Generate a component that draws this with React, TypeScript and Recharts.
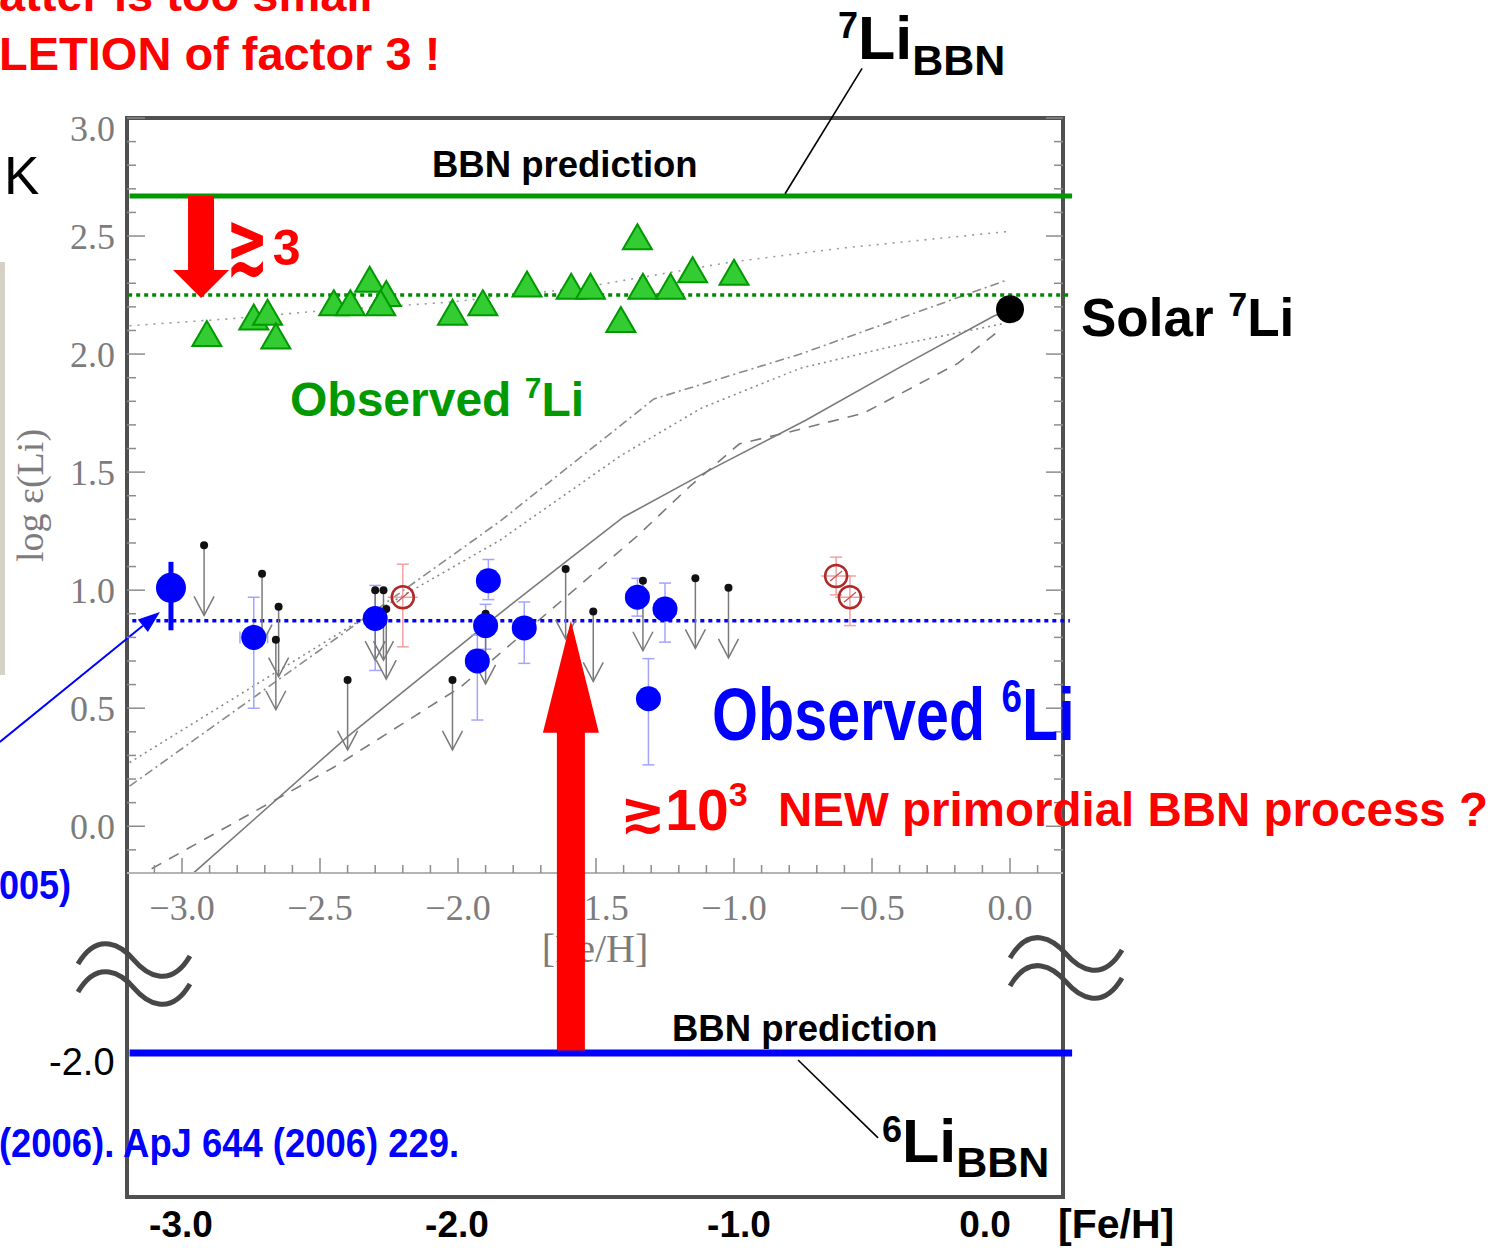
import React from 'react'
import { ComposedChart, Line, Scatter, ErrorBar, XAxis, YAxis, ReferenceLine, ReferenceDot, ReferenceArea } from 'recharts'

const W = 1499
const H = 1248
const SANS = '"Liberation Sans", Arial, "DejaVu Sans", sans-serif'
const SERIF = '"Liberation Serif", "Times New Roman", serif'
const RED = '#ff0000'
const GREEN = '#009900'
const BLUE = '#0000ff'
const SCAN_TICK = '#8c8c8c'
const SCAN_TEXT = '#7c7c7c'
const FRAME = '#505050'

// scanned panel axes ([Fe/H] vs log eps(Li))
const feDomain: [number, number] = [-3.1993, 0.192]
const liDomain: [number, number] = [-0.198, 3.0]
const feMajor = [-3.0, -2.5, -2.0, -1.5, -1.0, -0.5, 0.0]
const liMajor = [0.0, 0.5, 1.0, 1.5, 2.0, 2.5, 3.0]

// slide axis printed under the broken part
const slideFeTicks = [-3.0, -2.0, -1.0, 0.0]
const FRAME_BOTTOM = -1.57

// levels
const LI7_BBN = 2.67
const LI7_PLATEAU = 2.25
const LI6_PLATEAU = 0.87
const LI6_BBN = -2.0
const BREAK_SHIFT = 1.04 // the part below the axis break is drawn shifted up by this much

// observed 7Li (green triangles)
const li7Fe = [-2.91, -2.74, -2.69, -2.66, -2.45, -2.39, -2.32, -2.26, -2.28, -2.02, -1.91, -1.75, -1.59, -1.52, -1.35, -1.41, -1.33, -1.23, -1.15, -1.0]
const li7Val = [2.07, 2.14, 2.16, 2.06, 2.2, 2.2, 2.3, 2.24, 2.2, 2.16, 2.2, 2.28, 2.27, 2.27, 2.48, 2.13, 2.27, 2.27, 2.34, 2.33]

// observed 6Li detections (blue dots)
const li6Fe = [-2.74, -2.3, -1.89, -1.9, -1.93, -1.76, -1.35, -1.25, -1.31]
const li6Val = [0.8, 0.88, 1.04, 0.85, 0.7, 0.84, 0.97, 0.92, 0.54]
const li6Up = [0.17, 0.14, 0.09, 0.09, 0.11, 0.11, 0.08, 0.11, 0.17]
const li6Down = [0.3, 0.22, 0.08, 0.1, 0.25, 0.15, 0.08, 0.14, 0.28]
const li6FeErr = [0.05, 0.04, 0.04, 0.04, 0.04, 0.04, 0.04, 0.04, 0.04]

// highlighted star (big blue dot)
const starFe = [-3.04]
const starVal = [1.01]
const starUp = [0.11]
const starDown = [0.18]

// 6Li upper limits
const limFe = [-2.92, -2.71, -2.65, -2.66, -2.4, -2.3, -2.27, -2.26, -2.02, -1.9, -1.61, -1.51, -1.33, -1.14, -1.02]
const limVal = [1.19, 1.07, 0.93, 0.79, 0.62, 1.0, 1.0, 0.92, 0.62, 0.9, 1.09, 0.91, 1.04, 1.05, 1.01]

// open red circles
const redFe = [-2.2, -0.63, -0.58]
const redVal = [0.97, 1.06, 0.97]
const redUp = [0.14, 0.08, 0.09]
const redDown = [0.21, 0.08, 0.12]

// sun
const solarFe = [0.0]
const solarVal = [2.19]

// model curves
const solidFe = [-2.96, -2.4, -1.85, -1.61, -1.4, -1.07, -0.74, -0.39, -0.06, 0.0]
const solidLi = [-0.2, 0.38, 0.9, 1.12, 1.31, 1.52, 1.72, 1.95, 2.16, 2.19]
const dashedFe = [-3.11, -2.45, -1.99, -1.57, -1.35, -1.16, -0.98, -0.8, -0.53, -0.19, -0.05]
const dashedLi = [-0.18, 0.25, 0.59, 1.01, 1.23, 1.44, 1.62, 1.67, 1.75, 1.96, 2.09]
const dashDotFe = [-3.19, -1.85, -1.29, -0.76, -0.02]
const dashDotLi = [0.17, 1.29, 1.81, 2.0, 2.31]
const dottedFe = [-3.19, -2.33, -1.85, -1.41, -1.12, -0.76, -0.4, -0.02]
const dottedLi = [0.27, 0.89, 1.21, 1.57, 1.77, 1.94, 2.04, 2.13]
const li7ModelFe = [-3.19, -2.82, -2.53, -2.03, -1.56, -1.01, -0.6, 0.0]
const li7ModelLi = [2.12, 2.15, 2.18, 2.22, 2.28, 2.39, 2.45, 2.52]

const zip = (xs: number[], ys: number[]) => xs.map((x, i) => ({ x, y: ys[i] }))
const li7Data = zip(li7Fe, li7Val)
const li6Data = li6Fe.map((x, i) => ({ x, y: li6Val[i], ey: [li6Down[i], li6Up[i]], ex: li6FeErr[i] }))
const starData = starFe.map((x, i) => ({ x, y: starVal[i], ey: [starDown[i], starUp[i]] }))
const limData = zip(limFe, limVal)
const redData = redFe.map((x, i) => ({ x, y: redVal[i], ey: [redDown[i], redUp[i]] }))
const solarData = zip(solarFe, solarVal)

const minorTicks = (from: number, to: number) => {
  const out: number[] = []
  for (let i = Math.round(from * 10); i <= Math.round(to * 10); i++) out.push(i / 10)
  return out
}
const feTicks = minorTicks(-3.1, 0.1)
const liTicks = minorTicks(-0.1, 3.0)
const isMajor = (v: number) => feMajor.concat(liMajor).some((m) => Math.abs(m - v) < 1e-6)
const fmtScan = (v: number) => (v < -1e-9 ? '\u2212' : '') + Math.abs(v).toFixed(1)

function InnerXTick(p: any) {
  const { x, y, payload } = p
  const major = isMajor(payload.value)
  return (
    <g>
      <line x1={x} x2={x} y1={y} y2={y - (major ? 15 : 8)} stroke={SCAN_TICK} strokeWidth={1.5} />
      {major && (
        <text x={x} y={y + 47} textAnchor="middle" fontFamily={SERIF} fontSize={36} fill={SCAN_TEXT}>
          {fmtScan(payload.value)}
        </text>
      )}
    </g>
  )
}

function InnerTopTick(p: any) {
  const { x, y, payload } = p
  const major = isMajor(payload.value)
  return <line x1={x} x2={x} y1={y} y2={y + (major ? 15 : 8)} stroke={SCAN_TICK} strokeWidth={1.5} />
}

function InnerYTick(p: any) {
  const { x, y, payload } = p
  const v = payload.value
  const major = isMajor(v)
  return (
    <g>
      <line x1={x} x2={x + (major ? 18 : 9)} y1={y} y2={y} stroke={SCAN_TICK} strokeWidth={1.5} />
      {major && (
        <text x={x - 12} y={y + (v > 2.99 ? 23 : 13)} textAnchor="end" fontFamily={SERIF} fontSize={36} fill={SCAN_TEXT}>
          {v.toFixed(1)}
        </text>
      )}
    </g>
  )
}

function InnerRightTick(p: any) {
  const { x, y, payload } = p
  const major = isMajor(payload.value)
  return <line x1={x} x2={x - (major ? 17 : 9)} y1={y} y2={y} stroke={SCAN_TICK} strokeWidth={1.5} />
}

const YTitle = (p: any) => {
  const vb = p.viewBox || { x: 27, y: 118, width: 100, height: 755 }
  const cx = vb.x + 3
  const cy = vb.y + vb.height / 2
  return (
    <text transform={`translate(${cx},${cy}) rotate(-90)`} textAnchor="middle" dominantBaseline="central" fontFamily={SERIF} fontSize={38} fill={SCAN_TEXT}>
      log ε(Li)
    </text>
  )
}

const Triangle = (p: any) => (
  <polygon
    points={`${p.cx},${p.cy - 16.5} ${p.cx - 14.5},${p.cy + 8.5} ${p.cx + 14.5},${p.cy + 8.5}`}
    fill="#33cc33"
    stroke="#009900"
    strokeWidth={2}
  />
)

const UpperLimit = (p: any) => (
  <g stroke="#7a7a7a" fill="none" strokeWidth={1.5}>
    <line x1={p.cx} y1={p.cy} x2={p.cx} y2={p.cy + 70} />
    <polyline points={`${p.cx - 10},${p.cy + 51} ${p.cx},${p.cy + 70} ${p.cx + 10},${p.cy + 51}`} />
    <circle cx={p.cx} cy={p.cy} r={4} fill="#111" stroke="none" />
  </g>
)

const RedCircle = (p: any) => (
  <g fill="none">
    <line x1={p.cx - 15} x2={p.cx + 15} y1={p.cy} y2={p.cy} stroke="#f0a0a0" strokeWidth={1.5} />
    <circle cx={p.cx} cy={p.cy} r={11} stroke="#b02828" strokeWidth={2.5} />
    <line x1={p.cx - 6} x2={p.cx + 6} y1={p.cy + 5} y2={p.cy - 5} stroke="#c05050" strokeWidth={1.2} />
  </g>
)

const dot = (r: number, fill: string) => (p: any) => <circle cx={p.cx} cy={p.cy} r={r} fill={fill} />
const nothing = () => <g />

const blockArrow = (shaft: number, head: number, headLen: number) => (p: any) => {
  const { x1, y1, x2, y2 } = p
  const L = Math.hypot(x2 - x1, y2 - y1) || 1
  const ux = (x2 - x1) / L
  const uy = (y2 - y1) / L
  const nx = -uy
  const ny = ux
  const hx = x2 - ux * headLen
  const hy = y2 - uy * headLen
  const pts = [
    [x1 + nx * shaft, y1 + ny * shaft],
    [hx + nx * shaft, hy + ny * shaft],
    [hx + nx * head, hy + ny * head],
    [x2, y2],
    [hx - nx * head, hy - ny * head],
    [hx - nx * shaft, hy - ny * shaft],
    [x1 - nx * shaft, y1 - ny * shaft],
  ]
  return <polygon points={pts.map((q) => q.join(',')).join(' ')} fill={RED} />
}

const thinArrow = (color: string, width: number, headLen: number, half: number) => (p: any) => {
  const { x1, y1, x2, y2 } = p
  const L = Math.hypot(x2 - x1, y2 - y1) || 1
  const ux = (x2 - x1) / L
  const uy = (y2 - y1) / L
  const hx = x2 - ux * headLen
  const hy = y2 - uy * headLen
  return (
    <g>
      <line x1={x1} y1={y1} x2={hx} y2={hy} stroke={color} strokeWidth={width} />
      <polygon points={`${x2},${y2} ${hx - uy * half},${hy + ux * half} ${hx + uy * half},${hy - ux * half}`} fill={color} />
    </g>
  )
}

const breakMark = (p: any) => {
  const { cx, cy } = p
  const wave = (y: number) =>
    `M${cx - 56},${y + 4} C${cx - 36},${y - 30} ${cx - 12},${y - 14} ${cx},${y} S${cx + 36},${y + 30} ${cx + 56},${y - 4}`
  return (
    <g fill="none" stroke="#474747" strokeWidth={5}>
      <path d={wave(cy - 14)} />
      <path d={wave(cy + 14)} />
    </g>
  )
}

function LiChart() {
  const curve = (fe: number[], li: number[], dash: string | undefined, color: string, key: string) => (
    <Line
      key={key}
      xAxisId="b"
      yAxisId="l"
      data={zip(fe, li)}
      dataKey="y"
      type="linear"
      stroke={color}
      strokeWidth={1.6}
      strokeDasharray={dash}
      dot={false}
      activeDot={false}
      isAnimationActive={false}
    />
  )
  const ax = { xAxisId: 'b', yAxisId: 'l', ifOverflow: 'visible' as const }
  const lowY = LI6_BBN + BREAK_SHIFT
  return (
    <ComposedChart width={W} height={H} margin={{ top: 117, right: 435, bottom: 275, left: 27 }}>
      <XAxis
        xAxisId="b"
        dataKey="x"
        type="number"
        domain={feDomain}
        allowDataOverflow
        ticks={feTicks}
        interval={0}
        height={100}
        tickSize={0}
        tickMargin={0}
        tickLine={false}
        axisLine={{ stroke: '#b4b4b4', strokeWidth: 2 }}
        tick={(p: any) => <InnerXTick {...p} />}
        label={{ value: '[Fe/H]', position: 'insideBottom', offset: 11, fill: SCAN_TEXT, fontSize: 40, fontFamily: SERIF }}
      />
      <XAxis xAxisId="t" orientation="top" type="number" domain={feDomain} allowDataOverflow ticks={feTicks} interval={0} height={1} tickSize={0} tickMargin={0} tickLine={false} axisLine={false} tick={(p: any) => <InnerTopTick {...p} />} />
      <YAxis
        yAxisId="l"
        dataKey="y"
        type="number"
        domain={liDomain}
        allowDataOverflow
        ticks={liTicks}
        interval={0}
        width={100}
        tickSize={0}
        tickMargin={0}
        tickLine={false}
        axisLine={false}
        tick={(p: any) => <InnerYTick {...p} />}
        label={YTitle}
      />
      <YAxis yAxisId="r" orientation="right" type="number" domain={liDomain} allowDataOverflow ticks={liTicks} interval={0} width={1} tickSize={0} tickMargin={0} tickLine={false} axisLine={false} tick={(p: any) => <InnerRightTick {...p} />} />

      {curve(li7ModelFe, li7ModelLi, '2 6', '#9a9a9a', 'm7')}
      {curve(dashDotFe, dashDotLi, '9 4 2 4', '#8a8a8a', 'dd')}
      {curve(dottedFe, dottedLi, '2 4', '#8a8a8a', 'dt')}
      {curve(solidFe, solidLi, undefined, '#7a7a7a', 'so')}
      {curve(dashedFe, dashedLi, '11 9', '#7a7a7a', 'da')}

      <Scatter xAxisId="b" yAxisId="l" data={limData} dataKey="y" shape={UpperLimit} isAnimationActive={false} />
      <Scatter xAxisId="b" yAxisId="l" data={redData} dataKey="y" shape={RedCircle} isAnimationActive={false}>
        <ErrorBar dataKey="ey" direction="y" width={6} stroke="#f4a0a0" strokeWidth={1.5} isAnimationActive={false} />
      </Scatter>
      <Scatter xAxisId="b" yAxisId="l" data={li6Data} dataKey="y" shape={dot(12.5, BLUE)} isAnimationActive={false}>
        <ErrorBar dataKey="ey" direction="y" width={6} stroke="#a4a4ff" strokeWidth={1.5} isAnimationActive={false} />
        <ErrorBar dataKey="ex" direction="x" width={6} stroke="#a4a4ff" strokeWidth={1.5} isAnimationActive={false} />
      </Scatter>
      <Scatter xAxisId="b" yAxisId="l" data={starData} dataKey="y" shape={dot(15, BLUE)} isAnimationActive={false}>
        <ErrorBar dataKey="ey" direction="y" width={0} stroke={BLUE} strokeWidth={5} isAnimationActive={false} />
      </Scatter>
      <Scatter xAxisId="b" yAxisId="l" data={li7Data} dataKey="y" shape={Triangle} isAnimationActive={false} />
      <Scatter xAxisId="b" yAxisId="l" data={solarData} dataKey="y" shape={dot(14, '#000')} isAnimationActive={false} />

      <ReferenceArea {...ax} x1={feDomain[0]} x2={feDomain[1]} y1={FRAME_BOTTOM} y2={liDomain[1]} fill="none" fillOpacity={0} stroke={FRAME} strokeWidth={4} />

      {slideFeTicks.map((v) => (
        <ReferenceDot
          key={`sx${v}`}
          {...ax}
          x={v}
          y={FRAME_BOTTOM}
          r={0}
          shape={nothing}
          label={{ value: v.toFixed(1), position: 'bottom', offset: 14, fontSize: 37, fontWeight: 700, fill: '#000', fontFamily: SANS, dx: v === 0 ? -25 : v === -1 ? 5 : -1 }}
        />
      ))}

      <ReferenceLine {...ax} segment={[{ x: -3.19, y: LI7_BBN }, { x: 0.225, y: LI7_BBN }]} stroke={GREEN} strokeWidth={5} />
      <ReferenceLine {...ax} segment={[{ x: -3.195, y: LI7_PLATEAU }, { x: 0.217, y: LI7_PLATEAU }]} stroke="#008a00" strokeWidth={3.5} strokeDasharray="4 4" />
      <ReferenceLine {...ax} segment={[{ x: -3.18, y: LI6_PLATEAU }, { x: 0.217, y: LI6_PLATEAU }]} stroke={BLUE} strokeWidth={3.5} strokeDasharray="4 4" />
      <ReferenceLine
        {...ax}
        segment={[{ x: -3.19, y: lowY }, { x: 0.225, y: lowY }]}
        stroke={BLUE}
        strokeWidth={7}
        label={{ value: LI6_BBN.toFixed(1), position: 'left', offset: 15, fontSize: 38, fill: '#000', fontFamily: SANS, dy: 9 }}
      />

      <ReferenceLine {...ax} segment={[{ x: -2.931, y: LI7_BBN }, { x: -2.931, y: 2.238 }]} shape={blockArrow(13, 28, 28)} />
      <ReferenceLine {...ax} zIndex={2000} segment={[{ x: -1.591, y: lowY + 0.01 }, { x: -1.591, y: LI6_PLATEAU }]} shape={blockArrow(14, 28, 112)} />
      <ReferenceLine {...ax} segment={[{ x: -3.66, y: 0.357 }, { x: -3.08, y: 0.908 }]} shape={thinArrow(BLUE, 2, 22, 8)} />
      <ReferenceLine {...ax} segment={[{ x: -0.536, y: 3.21 }, { x: -0.815, y: 2.679 }]} stroke="#000" strokeWidth={1.6} />
      <ReferenceLine {...ax} segment={[{ x: -0.768, y: -0.99 }, { x: -0.478, y: -1.32 }]} stroke="#000" strokeWidth={1.6} />

      <ReferenceDot {...ax} x={-3.174} y={-0.626} r={0} shape={breakMark} />
      <ReferenceDot {...ax} x={0.203} y={-0.6} r={0} shape={breakMark} />
    </ComposedChart>
  )
}

function Txt(props: { x: number; base: number; size: number; color?: string; weight?: number; family?: string; sx?: number; children: React.ReactNode }) {
  const { x, base, size, color = '#000', weight = 700, family = SANS, sx = 1, children } = props
  return (
    <div
      style={{
        position: 'absolute',
        left: x,
        top: base - size * 0.8465,
        fontSize: size,
        lineHeight: `${size}px`,
        height: size,
        color,
        fontWeight: weight,
        fontFamily: family,
        whiteSpace: 'nowrap',
        transform: sx === 1 ? undefined : `scaleX(${sx})`,
        transformOrigin: '0 0',
      }}
    >
      {children}
    </div>
  )
}

const Sup = ({ size, dy, children }: { size: number; dy: number; children: React.ReactNode }) => (
  <span style={{ fontSize: size, position: 'relative', top: dy, lineHeight: 0 }}>{children}</span>
)

export default function App() {
  return (
    <div style={{ position: 'absolute', left: 0, top: 0, width: W, height: H, background: '#fff', overflow: 'hidden' }}>
      <div style={{ position: 'absolute', left: 0, top: 262, width: 5, height: 413, background: '#d6d1c6' }} />
      <div style={{ position: 'absolute', left: 0, top: 0 }}>
        <LiChart />
      </div>

      <Txt x={-1} base={11} size={47} color={RED}>atter is too small</Txt>
      <Txt x={-1} base={70} size={47} color={RED}>LETION of factor 3 !</Txt>
      <Txt x={4} base={194} size={53} weight={400}>K</Txt>
      <Txt x={432} base={178} size={36.5}>BBN prediction</Txt>
      <Txt x={838} base={60} size={61}>
        <Sup size={36} dy={-21}>7</Sup>Li<Sup size={43} dy={16}>BBN</Sup>
      </Txt>
      <Txt x={226} base={260} size={50} color={RED}>
        <span
          style={{
            display: 'inline-block',
            fontSize: 56,
            lineHeight: '56px',
            transformOrigin: '0 47px',
            transform: 'translateY(6px) scale(0.9, 1.5)',
            marginRight: -14,
          }}
        >
          ≳
        </span>{' '}
        3
      </Txt>
      <Txt x={290} base={417} size={48} color={GREEN}>
        Observed <Sup size={30} dy={-18}>7</Sup>Li
      </Txt>
      <Txt x={1081} base={336} size={53}>
        Solar <Sup size={34} dy={-20}>7</Sup>Li
      </Txt>
      <Txt x={712} base={741} size={74} color={BLUE} sx={0.8}>
        Observed <Sup size={46} dy={-28}>6</Sup>Li
      </Txt>
      <Txt x={620} base={830} size={57} color={RED}>
        <span style={{ fontSize: 54 }}>≳</span>10<Sup size={34} dy={-24}>3</Sup>
      </Txt>
      <Txt x={778} base={826} size={47.5} color={RED}>NEW primordial BBN process ?</Txt>
      <Txt x={-1} base={899} size={40} color={BLUE} sx={0.9}>005)</Txt>
      <Txt x={-1} base={1157} size={40} color={BLUE} sx={0.91}>(2006). ApJ 644 (2006) 229.</Txt>
      <Txt x={672} base={1042} size={36.5}>BBN prediction</Txt>
      <Txt x={882} base={1163} size={61}>
        <Sup size={36} dy={-20}>6</Sup>Li<Sup size={43} dy={15}>BBN</Sup>
      </Txt>
      <Txt x={1058} base={1239} size={41}>[Fe/H]</Txt>
    </div>
  )
}
